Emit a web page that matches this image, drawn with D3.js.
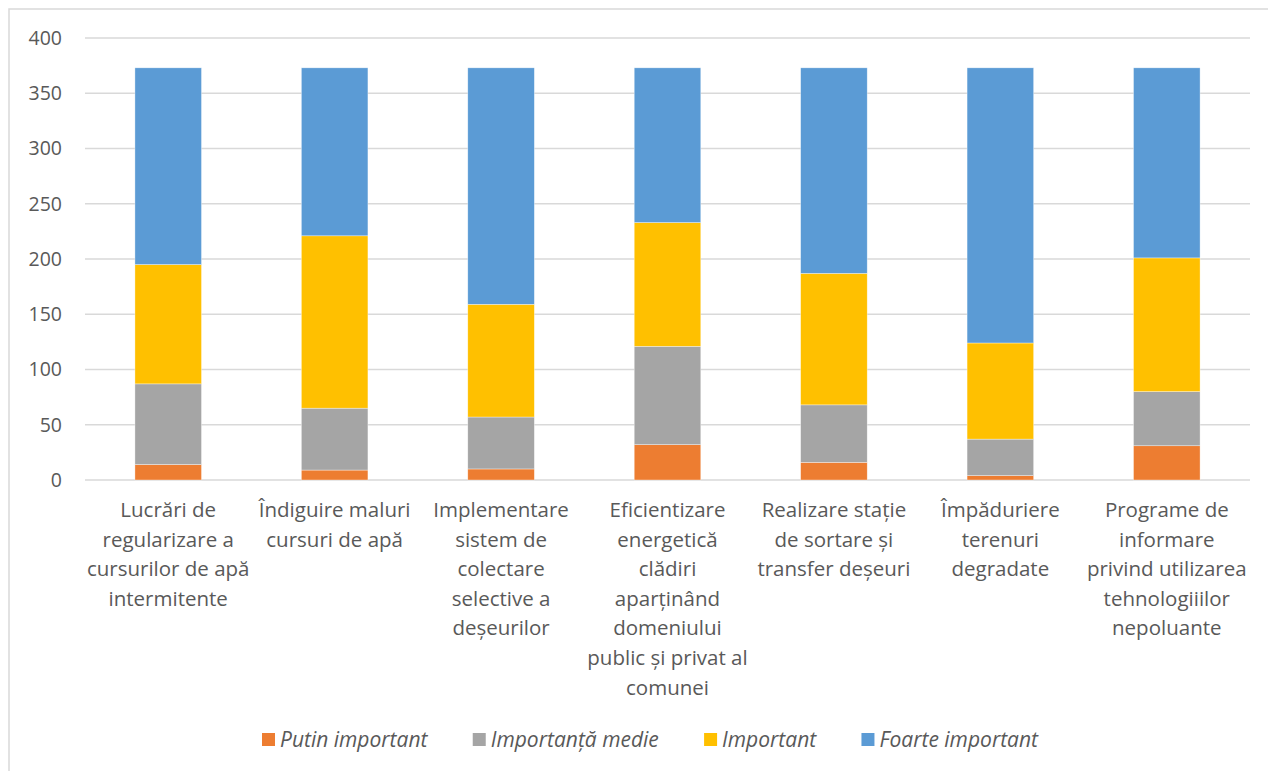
<!DOCTYPE html>
<html>
<head>
<meta charset="utf-8">
<script src="https://cdn.jsdelivr.net/npm/d3@7"></script>
<style>
  html, body { margin: 0; padding: 0; background: #fff; }
  svg { display: block; }
  text { font-family: "Open Sans", "Segoe UI", sans-serif; fill: #595959; }
</style>
</head>
<body>
<svg id="chart" width="1268" height="771"></svg>
<script>
const categories = [
  ["Lucrări de", "regularizare a", "cursurilor de apă", "intermitente"],
  ["Îndiguire maluri", "cursuri de apă"],
  ["Implementare", "sistem de", "colectare", "selective a", "deșeurilor"],
  ["Eficientizare", "energetică", "clădiri", "aparținând", "domeniului", "public și privat al", "comunei"],
  ["Realizare stație", "de sortare și", "transfer deșeuri"],
  ["Împăduriere", "terenuri", "degradate"],
  ["Programe de", "informare", "privind utilizarea", "tehnologiiilor", "nepoluante"]
];
const seriesNames = ["Putin important", "Importanță medie", "Important", "Foarte important"];
const putinImportant   = [14, 9, 10, 32, 16, 4, 31];
const importantaMedie  = [73, 56, 47, 89, 52, 33, 49];
const important        = [108, 156, 102, 112, 119, 87, 121];
const foarteImportant  = [178, 152, 214, 140, 186, 249, 172];
const yTicks = [0, 50, 100, 150, 200, 250, 300, 350, 400];
const colors = ["#ED7D31", "#A5A5A5", "#FFC000", "#5B9BD5"];

const seriesValues = [putinImportant, importantaMedie, important, foarteImportant];
const rows = categories.map((c, i) => {
  const r = { idx: i };
  seriesNames.forEach((s, k) => r[s] = seriesValues[k][i]);
  return r;
});

const svg = d3.select("#chart");
const W = 1268, H = 771;

// chart border
svg.append("rect").attr("x", 9).attr("y", 9).attr("width", W + 10).attr("height", H + 10)
  .attr("fill", "none").attr("stroke", "#d9d9d9").attr("stroke-width", 1.5);

const plot = { left: 85, right: 1250, top: 38, bottom: 480 };
const x = d3.scaleBand().domain(d3.range(categories.length))
  .range([plot.left, plot.right]).paddingInner(0.6).paddingOuter(0.3);
const y = d3.scaleLinear().domain([0, 400]).range([plot.bottom, plot.top]);

// gridlines
svg.append("g").selectAll("line").data(yTicks).join("line")
  .attr("x1", plot.left).attr("x2", plot.right)
  .attr("y1", d => y(d)).attr("y2", d => y(d))
  .attr("stroke", "#d9d9d9").attr("stroke-width", 1.5);

// y axis labels
const yAxis = d3.axisLeft(y).tickValues(yTicks).tickSize(0).tickPadding(0);
const ya = svg.append("g").attr("transform", `translate(62,0)`).call(yAxis);
ya.select(".domain").remove();
ya.selectAll("text").attr("font-size", 19.5).attr("fill", "#595959")
  .attr("font-family", "'Open Sans', sans-serif");

// stacked bars
const stack = d3.stack().keys(seriesNames);
const stacked = stack(rows);
svg.append("g").selectAll("g").data(stacked).join("g")
  .attr("fill", (d, i) => colors[i])
  .selectAll("rect").data(d => d).join("rect")
  .attr("x", d => x(d.data.idx))
  .attr("width", x.bandwidth())
  .attr("y", d => y(d[1]))
  .attr("height", d => y(d[0]) - y(d[1]))
  .attr("stroke", "#ffffff").attr("stroke-width", 0.6).attr("stroke-opacity", 0.6);

// category labels
const lineH = 29.6;
const cat = svg.append("g");
categories.forEach((lines, i) => {
  const t = cat.append("text")
    .attr("x", x(i) + x.bandwidth() / 2)
    .attr("y", 517)
    .attr("text-anchor", "middle")
    .attr("font-size", 20.5);
  lines.forEach((l, j) => {
    t.append("tspan").attr("x", x(i) + x.bandwidth() / 2)
      .attr("dy", j === 0 ? 0 : lineH).text(l);
  });
});

// legend
const leg = svg.append("g");
const items = [];
seriesNames.forEach((s, i) => {
  const g = leg.append("g");
  g.append("rect").attr("x", 0).attr("y", -7).attr("width", 13).attr("height", 13).attr("fill", colors[i]);
  const t = g.append("text").attr("x", 18).attr("y", 7).attr("font-size", 21)
    .attr("font-style", "italic").text(s);
  const w = 18 + t.node().getComputedTextLength();
  items.push({ g, w });
});
const legStart = 262, legEnd = 1038;
const gap = (legEnd - legStart - d3.sum(items, d => d.w)) / (items.length - 1);
let start = legStart;
items.forEach(it => {
  it.g.attr("transform", `translate(${start},740)`);
  start += it.w + gap;
});
</script>
</body>
</html>
